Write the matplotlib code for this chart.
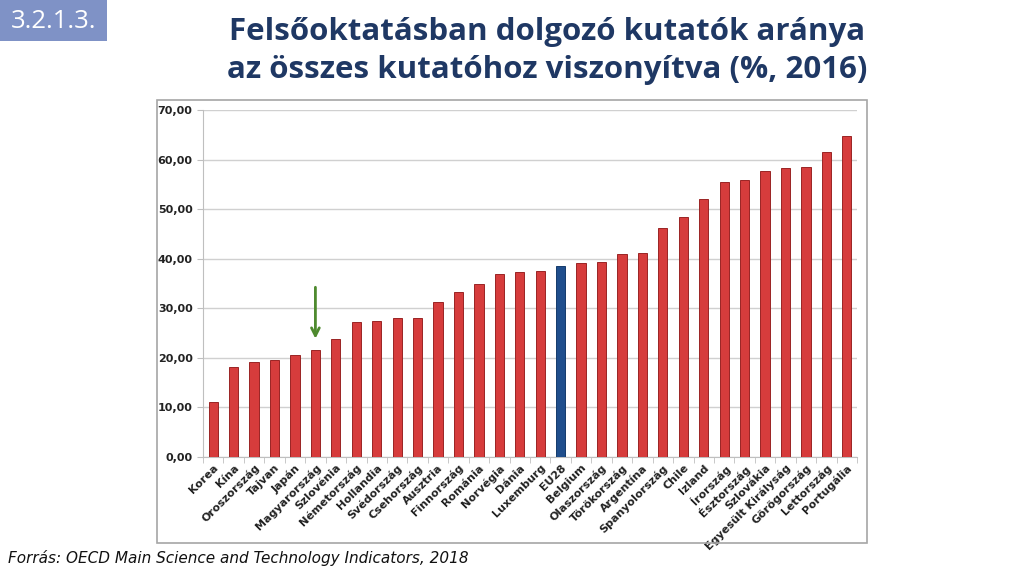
import matplotlib.pyplot as plt
from matplotlib.patches import Rectangle
import numpy as np

# adatok
orszagok = ['Korea', 'Kína', 'Oroszország', 'Tajvan', 'Japán', 'Magyarország',
            'Szlovénia', 'Németország', 'Hollandia', 'Svédország', 'Csehország',
            'Ausztria', 'Finnország', 'Románia', 'Norvégia', 'Dánia', 'Luxemburg',
            'EU28', 'Belgium', 'Olaszország', 'Törökország', 'Argentína',
            'Spanyolország', 'Chile', 'Izland', 'Írország', 'Észtország',
            'Szlovákia', 'Egyesült Királyság', 'Görögország', 'Lettország',
            'Portugália']
ertekek = [11.1, 18.1, 19.2, 19.5, 20.6, 21.6, 23.9, 27.3, 27.4, 28.0, 28.0,
           31.3, 33.3, 34.9, 36.9, 37.3, 37.6, 38.6, 39.1, 39.4, 41.0, 41.2,
           46.1, 48.5, 52.1, 55.4, 55.9, 57.6, 58.4, 58.6, 61.6, 64.8]
y_ticks = [0, 10, 20, 30, 40, 50, 60, 70]

fig = plt.figure(figsize=(10.24, 5.76), dpi=100)
fig.patch.set_facecolor('white')

# keret a diagram körül
fig.patches.append(Rectangle((157 / 1024, 1 - 543 / 576), 710 / 1024, 443 / 576,
                             transform=fig.transFigure, fill=False,
                             edgecolor='#a6a6a6', linewidth=1.2))

ax = fig.add_axes([203 / 1024, 1 - 457 / 576, 654 / 1024, 347 / 576])
x = np.arange(len(orszagok))
szinek = ['#1f4e8c' if o == 'EU28' else '#d63c3c' for o in orszagok]
elek = ['#143a6b' if o == 'EU28' else '#9a2424' for o in orszagok]
ax.bar(x, ertekek, width=0.45, color=szinek, edgecolor=elek, linewidth=0.7, zorder=3)

ax.set_xlim(-0.5, len(orszagok) - 0.5)
ax.set_ylim(0, 70)
ax.set_yticks(y_ticks)
ax.set_yticklabels([f'{v:.2f}'.replace('.', ',') for v in y_ticks],
                   fontsize=8, fontweight='bold', color='#222222')
ax.set_xticks(x)
ax.set_xticklabels(orszagok, rotation=45, ha='right', rotation_mode='anchor',
                   fontsize=8, fontweight='bold', color='#222222')
ax.tick_params(axis='x', length=0, pad=4)
ax.tick_params(axis='y', length=4, color='#bfbfbf')
ax.set_xticks(np.arange(-0.5, len(orszagok)), minor=True)
ax.tick_params(axis='x', which='minor', length=4, color='#bfbfbf')
ax.grid(axis='y', color='#d0d0d0', linewidth=1, zorder=0)
for s in ['top', 'right']:
    ax.spines[s].set_visible(False)
ax.spines['left'].set_color('#bfbfbf')
ax.spines['bottom'].set_color('#bfbfbf')

# nyíl Magyarország felett
ax.annotate('', xy=(5, 23.3), xytext=(5, 34.8),
            arrowprops=dict(arrowstyle='->', color='#4e8a2e', lw=2,
                            mutation_scale=14), zorder=4)

# cím
fig.text(547 / 1024, 1 - 51 / 576,
         'Felsőoktatásban dolgozó kutatók aránya\naz összes kutatóhoz viszonyítva (%, 2016)',
         ha='center', va='center', fontsize=22.5, fontweight='bold',
         color='#1f3864', family='Open Sans', linespacing=1.35)

# sorszám doboz
fig.patches.append(Rectangle((0, 1 - 41 / 576), 107 / 1024, 41 / 576,
                             transform=fig.transFigure, facecolor='#7f92c6',
                             edgecolor='none'))
fig.text(54 / 1024, 1 - 21 / 576, '3.2.1.3.', ha='center', va='center',
         fontsize=18.5, color='white', family='Open Sans')

fig.text(8 / 1024, 1 - 558 / 576,
         'Forrás: OECD Main Science and Technology Indicators, 2018',
         ha='left', va='center', fontsize=11, style='italic', color='#111111')

fig.savefig('out.png', dpi=100)
